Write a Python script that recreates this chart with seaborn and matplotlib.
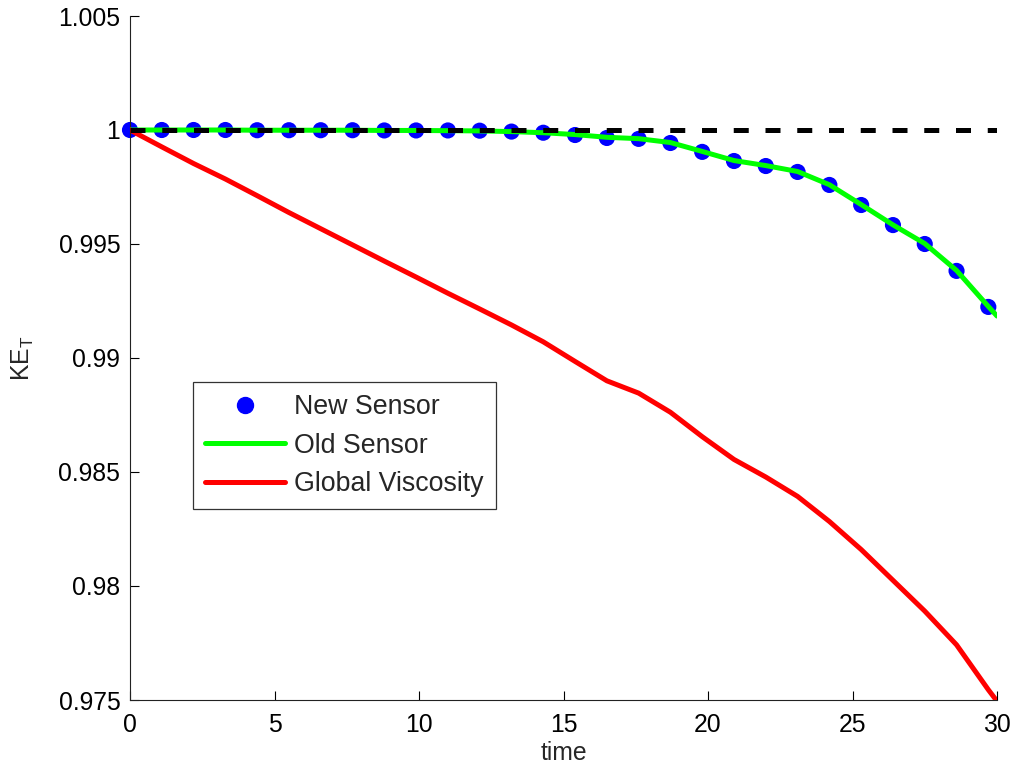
import numpy as np
import pandas as pd
import matplotlib
matplotlib.use("Agg")
import matplotlib.pyplot as plt
import seaborn as sns
from matplotlib.lines import Line2D

# ---- data ----
dt = 1.1
t_dots = [round(k * dt, 2) for k in range(28)]
new_sensor = [1.0, 1.0, 1.0, 1.0, 0.99999, 0.99999, 0.99999, 0.99999, 0.99998, 0.99998,
              0.99998, 0.99997, 0.99993, 0.99988, 0.99978, 0.99965, 0.99961, 0.99943,
              0.99904, 0.99864, 0.99842, 0.99816, 0.99759, 0.99671, 0.99583, 0.99500,
              0.99382, 0.99224]
t_lines = t_dots + [30.0]
old_sensor = [1.0, 1.0, 1.0, 1.0, 0.99999, 0.99999, 0.99999, 0.99999, 0.99998, 0.99998,
              0.99997, 0.99996, 0.99993, 0.99988, 0.99980, 0.99968, 0.99962, 0.99945,
              0.99906, 0.99866, 0.99844, 0.99818, 0.99760, 0.99673, 0.99584, 0.99502,
              0.99384, 0.99226, 0.99184]
global_visc = [1.0, 0.99926, 0.99853, 0.99785, 0.99712, 0.99638, 0.99567, 0.99496,
               0.99425, 0.99355, 0.99284, 0.99215, 0.99145, 0.99071, 0.98985, 0.98900,
               0.98846, 0.98762, 0.98655, 0.98555, 0.98478, 0.98393, 0.98283, 0.98160,
               0.98025, 0.97890, 0.97742, 0.97545, 0.97495]
ref_t = [0.0, 30.0]
ref_val = [1.0, 1.0]

x_ticks = [0, 5, 10, 15, 20, 25, 30]
y_ticks = [0.975, 0.98, 0.985, 0.99, 0.995, 1.0, 1.005]
y_tick_labels = ["0.975", "0.98", "0.985", "0.99", "0.995", "1", "1.005"]

sns.set_style("ticks")
plt.rcParams['font.family'] = ['Liberation Sans', 'DejaVu Sans']
plt.rcParams['mathtext.fontset'] = 'custom'
plt.rcParams['mathtext.rm'] = 'Liberation Sans'

FS = 17.8
LFS = 19.3
fig = plt.figure(figsize=(10.13, 7.65), dpi=100)
ax = fig.add_axes([130 / 1013, 65 / 765, 867 / 1013, 684 / 765])

df_dots = pd.DataFrame({"t": t_dots, "v": new_sensor})
df_old = pd.DataFrame({"t": t_lines, "v": old_sensor})
df_gv = pd.DataFrame({"t": t_lines, "v": global_visc})
df_ref = pd.DataFrame({"t": ref_t, "v": ref_val})

sns.scatterplot(data=df_dots, x="t", y="v", ax=ax, color=(0, 0, 1), s=135,
                edgecolor="none", zorder=2, clip_on=False)
sns.lineplot(data=df_old, x="t", y="v", ax=ax, color=(0, 1, 0), lw=3.6, zorder=3, sort=False)
sns.lineplot(data=df_gv, x="t", y="v", ax=ax, color=(1, 0, 0), lw=3.6, zorder=3, sort=False)
sns.lineplot(data=df_ref, x="t", y="v", ax=ax, color="black", lw=3.6, zorder=4, sort=False)
ax.lines[-1].set_dashes([3.0, 3.35])
ax.lines[-1].set_dash_capstyle("butt")

ax.set_xlim(0, 30)
ax.set_ylim(0.975, 1.005)
ax.set_xticks(x_ticks)
ax.set_xticklabels([str(v) for v in x_ticks])
ax.set_yticks(y_ticks)
ax.set_yticklabels(y_tick_labels)
ax.tick_params(direction="in", length=6.5, width=0.8, labelsize=FS, colors="black")
ax.tick_params(axis="y", pad=7)
ax.tick_params(axis="x", pad=9.5)
for s in ["top", "right"]:
    ax.spines[s].set_visible(False)
for s in ["left", "bottom"]:
    ax.spines[s].set_linewidth(0.8)
    ax.spines[s].set_color("#222222")

ax.set_xlabel("time", fontsize=FS, labelpad=3)
ax.set_ylabel(r"KE$_\mathregular{T}$", fontsize=FS, labelpad=16)

handles = [
    Line2D([], [], color=(0, 0, 1), marker="o", ls="none", markersize=11.5),
    Line2D([], [], color=(0, 1, 0), lw=3.6),
    Line2D([], [], color=(1, 0, 0), lw=3.6),
]
labels = ["New Sensor", "Old Sensor", "Global Viscosity"]
leg = ax.legend(handles, labels, loc="upper left", bbox_to_anchor=(63 / 867, 0.465),
                fontsize=LFS, frameon=True, fancybox=False, edgecolor="black",
                handlelength=3.0, handletextpad=0.32, borderpad=0.45, labelspacing=0.47,
                borderaxespad=0)
leg.get_frame().set_linewidth(0.9)

fig.savefig("out.png", dpi=100)
